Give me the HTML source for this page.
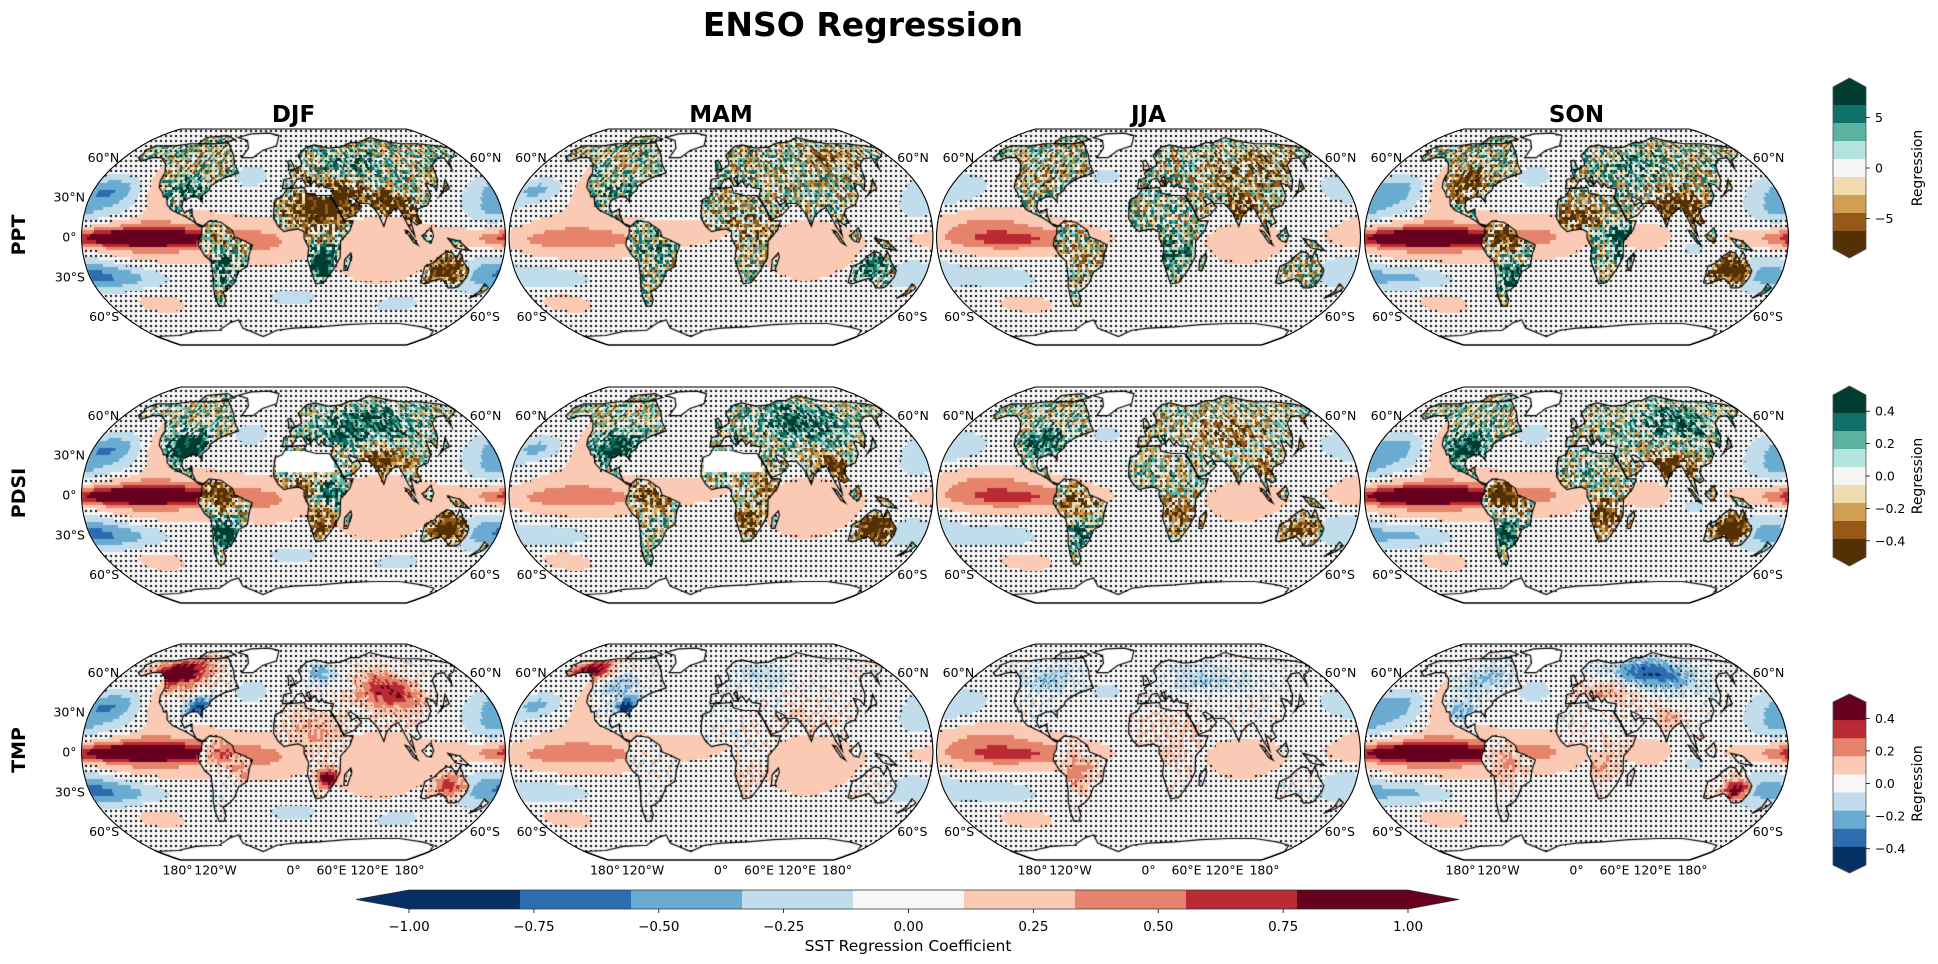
<!DOCTYPE html>
<html><head><meta charset="utf-8"><title>ENSO Regression</title>
<style>
html,body{margin:0;padding:0;background:#fff;}
#wrap{position:relative;width:1938px;height:964px;overflow:hidden;font-family:"DejaVu Sans","Liberation Sans",sans-serif;}
canvas,svg{position:absolute;left:0;top:0;}
</style></head>
<body>
<div id="wrap">
<canvas id="cv" width="1938" height="964"></canvas>
<svg id="sv" width="1938" height="964" xmlns="http://www.w3.org/2000/svg">
<text x="863" y="36" text-anchor="middle" font-size="33" font-weight="bold">ENSO Regression</text>
</svg>
</div>
<script>
// ---------- data ----------
const seasons = ['DJF','MAM','JJA','SON'];
const variables = ['PPT','PDSI','TMP'];
const cbarTicksPPT = [5,0,-5];
const cbarTicksPDSI = [0.4,0.2,0.0,-0.2,-0.4];
const cbarTicksTMP = [0.4,0.2,0.0,-0.2,-0.4];
const sstTicks = [-1.00,-0.75,-0.50,-0.25,0.00,0.25,0.50,0.75,1.00];
const latLabels = ['60°N','30°N','0°','30°S','60°S'];
const latValues = [60,30,0,-30,-60];
const lonLabels = ['180°','120°W','0°','60°E','120°E','180°'];
const rdbu = ['#053061','#2c6db0','#6aabd1','#c1ddec','#f7f7f7','#fbcab4','#e5836b','#ba2a34','#67001f'];
const brbg = ['#543005','#955a18','#cfa052','#f0dcae','#f5f5f5','#b4e2dc','#5ab2a0','#0f7068','#003c30'];
// SST blobs [lon, lat, rlon, rlat, amp]
const sstDJF = [[-130,-1,55,5,0.75],[-125,0,70,10,0.45],[-120,0,90,22,0.3],[-122,40,13,25,0.3],[-165,35,25,10,-0.5],[-160,20,40,12,-0.25],[-150,-30,40,9,-0.4],[-170,-25,25,15,-0.25],[170,20,25,15,-0.3],[165,-25,25,15,-0.3],[75,-10,45,25,0.3],[-20,-5,30,15,0.25],[-40,45,15,8,-0.3],[-130,-50,25,8,0.25],[0,-45,30,8,-0.2],[100,-50,30,8,-0.2]];
const sstMAM = [[-125,-2,60,7,0.2],[-120,0,80,18,0.3],[-122,40,13,25,0.25],[-165,35,20,8,-0.4],[-150,-30,35,8,-0.3],[75,-10,45,25,0.25],[-20,5,30,10,0.15],[-150,-50,25,8,0.25],[170,20,25,15,-0.2],[165,-25,25,15,-0.2]];
const sstJJA = [[-110,-2,50,6,0.25],[-120,0,80,15,0.35],[-140,10,40,15,0.2],[-175,35,30,12,-0.3],[170,-25,25,12,-0.3],[-130,-30,40,12,-0.2],[80,-5,40,20,0.2],[-120,-50,30,8,0.25],[-40,45,15,8,-0.2]];
const sstSON = [[-130,-1,55,5,0.8],[-125,0,70,10,0.45],[-120,0,90,22,0.3],[-122,40,13,25,0.3],[-165,35,25,10,-0.45],[-160,20,40,12,-0.25],[-150,-30,40,9,-0.4],[170,20,25,15,-0.3],[165,-25,25,15,-0.35],[60,0,20,10,0.3],[100,-8,15,8,-0.2],[-20,0,30,15,0.2],[-40,45,15,8,-0.3],[-130,-50,25,8,0.25]];
const sstBlobs = [sstDJF,sstMAM,sstJJA,sstSON];
// land blobs [lon, lat, rlon, rlat, amp]
const pptDJF=[[20,20,25,15,-0.8],[45,30,20,12,-0.7],[80,25,20,10,-0.6],[100,15,15,10,-0.5],[25,-20,15,12,0.9],[135,-25,15,10,-0.9],[-60,-25,15,15,0.4],[-60,0,15,10,-0.2],[-95,35,20,10,0.4],[60,55,40,10,0.3],[10,50,15,8,-0.2]];
const pptMAM=[[30,10,25,15,-0.3],[130,-25,15,10,0.5],[-55,-10,15,15,0.2],[120,60,30,10,-0.4],[-95,35,20,10,0.2]];
const pptJJA=[[80,20,15,10,-0.5],[100,50,40,15,-0.3],[20,-10,20,15,0.3],[-60,-20,15,15,-0.2],[-95,45,25,10,-0.2]];
const pptSON=[[135,-25,15,10,-1],[90,20,25,15,-0.7],[40,0,15,15,0.6],[-60,0,15,10,-0.7],[-100,40,20,12,-0.5],[0,15,25,8,-0.5],[60,55,30,10,0.4],[-55,-30,15,10,0.5]];
const pdsiDJF=[[-95,35,20,12,0.9],[135,-25,15,10,-1],[-60,0,15,10,-0.8],[-60,-30,12,12,0.8],[25,-20,15,12,-0.6],[30,0,12,10,0.7],[80,25,20,10,-0.7],[10,5,12,8,-0.6],[80,55,40,12,0.6],[40,45,20,10,0.4]];
const pdsiMAM=[[-95,35,20,12,0.8],[135,-25,15,10,-0.9],[-60,0,15,10,-0.5],[25,-20,15,12,-0.6],[80,55,40,12,0.6],[95,20,15,10,-0.7],[40,5,12,8,-0.4]];
const pdsiJJA=[[-95,40,20,12,0.5],[135,-25,15,10,-0.5],[-60,-5,15,10,-0.5],[80,50,40,12,-0.3],[25,-15,15,12,-0.5],[100,20,15,10,-0.4],[-60,-30,12,10,0.5]];
const pdsiSON=[[-100,35,20,12,0.7],[135,-25,15,10,-1],[-60,0,15,10,-0.9],[25,-15,15,12,-0.6],[80,20,20,10,-0.8],[100,55,30,12,0.5],[-60,-30,12,10,0.6]];
const tmpDJF=[[-120,60,30,12,1.0],[-85,33,10,8,-0.8],[90,45,30,15,0.7],[30,-20,10,8,0.9],[135,-25,15,10,0.6],[-60,0,15,10,0.5],[20,15,30,15,0.3],[30,60,15,8,-0.4],[-45,-15,10,8,0.3]];
const tmpMAM=[[-140,62,20,10,0.9],[-85,33,10,8,-0.9],[-100,50,20,8,-0.3],[25,-20,15,12,0.2],[80,10,30,20,0.2],[40,60,30,10,-0.2]];
const tmpJJA=[[-60,-15,15,15,0.4],[-100,55,25,10,-0.3],[60,55,40,10,-0.25],[20,10,30,20,0.15]];
const tmpSON=[[80,60,40,12,-0.7],[-90,55,25,12,-0.3],[-100,30,15,10,-0.3],[140,-28,12,8,0.8],[20,-10,25,15,0.25],[-60,-10,15,15,0.3],[30,45,30,10,0.3],[80,25,10,8,0.4]];
const landBlobs=[[pptDJF,pptMAM,pptJJA,pptSON],[pdsiDJF,pdsiMAM,pdsiJJA,pdsiSON],[tmpDJF,tmpMAM,tmpJJA,tmpSON]];
const landGain=[1.5,1.5,1.1];
const landNoise=[1.0,0.9,0.2];
const landThr=[0.55,0.5,0.3];

// ---------- geometry ----------
const XT=[1.0,0.9986,0.9954,0.99,0.9822,0.973,0.96,0.9427,0.9216,0.8962,0.8679,0.835,0.7986,0.7597,0.7186,0.6732,0.6213,0.5722,0.5322];
const YT=[0,0.062,0.124,0.186,0.248,0.31,0.372,0.434,0.4958,0.5571,0.6176,0.6769,0.7346,0.7903,0.8435,0.8936,0.9394,0.9761,1.0];
const CX=[293.5,721,1148.5,1576.5], CY=[237,495,752], HW=212, HH=108;
function tab(T,lat){let a=Math.min(90,Math.abs(lat))/5;let i=Math.min(17,Math.floor(a));let f=a-i;return T[i]+(T[i+1]-T[i])*f;}
function robX(lat){return tab(XT,lat);}
function robY(lat){return Math.sign(lat)*tab(YT,lat);}
function invY(t){const s=t<0?-1:1,a=Math.abs(t);for(let i=0;i<18;i++){if(a<=YT[i+1]){return s*(i+(a-YT[i])/(YT[i+1]-YT[i]))*5;}}return s*90;}
function proj(lon,lat,cx,cy){return [cx+HW*robX(lat)*lon/180, cy-HH*robY(lat)];}

const polys=[
 {nd:0,p:[[-168,66],[-162,70],[-140,70],[-125,72],[-95,72],[-80,73],[-65,62],[-60,55],[-53,48],[-66,44],[-70,42],[-76,38],[-76,35],[-81,31],[-80,26],[-82,28],[-85,30],[-90,30],[-97,27],[-97,22],[-94,18],[-88,21],[-87,16],[-83,10],[-79,9],[-77,8],[-80,8],[-86,12],[-92,15],[-105,20],[-110,24],[-112,30],[-115,30],[-117,33],[-122,37],[-124,42],[-124,48],[-130,55],[-140,60],[-150,60],[-158,57],[-165,60],[-165,64]]},
 {nd:0,p:[[-115,72],[-90,72],[-75,76],[-90,80],[-115,78]]},
 {nd:0,p:[[-77,8],[-72,12],[-62,11],[-52,5],[-50,0],[-44,-2],[-35,-6],[-38,-13],[-40,-22],[-48,-26],[-53,-34],[-58,-38],[-65,-41],[-65,-47],[-69,-52],[-74,-52],[-74,-45],[-73,-37],[-71,-30],[-71,-18],[-76,-14],[-81,-6],[-80,-1],[-78,2],[-78,7]]},
 {nd:0,p:[[-17,21],[-16,28],[-10,30],[-6,36],[10,37],[11,33],[20,31],[32,31],[35,28],[43,12],[51,12],[48,5],[40,-3],[40,-15],[35,-24],[32,-28],[27,-34],[20,-35],[18,-31],[12,-17],[13,-8],[9,-1],[9,4],[4,6],[-4,5],[-8,4],[-13,8],[-17,14]]},
 {nd:0,p:[[-10,36],[-9,43],[-2,44],[-4,48],[2,51],[8,54],[8,57],[5,62],[15,69],[25,71],[40,68],[55,69],[70,73],[80,73],[100,78],[115,74],[130,72],[150,72],[170,70],[180,68],[180,65],[172,61],[162,58],[156,51],[160,60],[150,59],[140,54],[135,43],[129,35],[127,39],[122,40],[122,31],[117,24],[108,21],[106,17],[109,11],[105,9],[100,13],[103,1],[98,8],[94,16],[91,22],[86,20],[80,15],[77,8],[73,17],[70,21],[66,25],[57,25],[56,27],[50,30],[48,29],[51,24],[56,26],[59,22],[52,16],[43,13],[39,21],[33,29],[34,31],[36,36],[28,37],[26,40],[23,37],[21,40],[19,42],[16,39],[15,45],[12,44],[16,38],[12,38],[8,44],[3,43],[-1,37]]},
 {nd:0,p:[[114,-22],[114,-34],[118,-35],[124,-33],[131,-31],[138,-35],[141,-38],[147,-38],[150,-37],[153,-30],[153,-25],[146,-18],[145,-15],[142,-11],[140,-17],[136,-12],[131,-11],[126,-14],[121,-19]]},
 {nd:0,p:[[109,1],[113,-3],[117,-4],[119,1],[117,7],[111,2]]},
 {nd:0,p:[[95,5],[98,4],[106,-6],[102,-4]]},
 {nd:0,p:[[131,-1],[141,-3],[150,-10],[143,-9],[138,-8]]},
 {nd:0,p:[[44,-25],[47,-25],[50,-15],[49,-12],[44,-17]]},
 {nd:0,p:[[130,31],[135,34],[141,36],[142,43],[140,41],[135,35]]},
 {nd:0,p:[[-5,50],[1,51],[0,54],[-3,58],[-6,57],[-5,54]]},
 {nd:0,p:[[172,-35],[178,-38],[175,-42],[167,-46],[172,-41]]},
 {nd:1,p:[[-55,60],[-43,60],[-35,66],[-20,70],[-20,80],[-35,83],[-60,82],[-73,78],[-58,75],[-52,68]]},
 {nd:1,p:[[-180,-78],[-150,-77],[-120,-73],[-90,-72],[-70,-65],[-60,-63],[-60,-70],[-40,-78],[-20,-72],[0,-70],[30,-69],[60,-67],[90,-66],[120,-66],[150,-69],[170,-72],[180,-78],[180,-90],[-180,-90]]}
];
function pip(x,y,p){let c=false;for(let i=0,j=p.length-1;i<p.length;j=i++){const xi=p[i][0],yi=p[i][1],xj=p[j][0],yj=p[j][1];if(((yi>y)!=(yj>y))&&(x<(xj-xi)*(y-yi)/(yj-yi)+xi))c=!c;}return c;}
const NI=144,NJ=72,D=2.5;
const land=new Uint8Array(NI*NJ);
for(let j=0;j<NJ;j++)for(let i=0;i<NI;i++){const lon=-180+D*(i+.5),lat=-90+D*(j+.5);for(const q of polys){if(pip(lon,lat,q.p)){land[j*NI+i]=q.nd?2:1;break;}}}
function blobSum(bl,lon,lat){let v=0;for(const b of bl){const dl=((lon-b[0]+540)%360)-180;const dy=lat-b[1];v+=b[4]*Math.exp(-(dl*dl)/(b[2]*b[2])-(dy*dy)/(b[3]*b[3]));}return v;}
function hash(i,j){let h=(i*374761393+j*668265263)|0;h=(h^(h>>>13))*1274126177|0;h=h^(h>>>16);return ((h>>>0)%1000)/1000-0.5;}
function bin(v){return Math.max(0,Math.min(8,Math.floor((v+1)/(2/9))));}
function hex(c){return [parseInt(c.substr(1,2),16),parseInt(c.substr(3,2),16),parseInt(c.substr(5,2),16)];}
const RDBU=rdbu.map(hex),BRBG=brbg.map(hex);

const cv=document.getElementById('cv');const ctx=cv.getContext('2d');
ctx.fillStyle='#fff';ctx.fillRect(0,0,1938,964);
const img=ctx.getImageData(0,0,1938,964);const px=img.data;
for(let r=0;r<3;r++)for(let c=0;c<4;c++){
  const col=new Array(NI*NJ),sig=new Uint8Array(NI*NJ);
  for(let j=0;j<NJ;j++)for(let i=0;i<NI;i++){
    const k=j*NI+i,lon=-180+D*(i+.5),lat=-90+D*(j+.5);
    if(land[k]==2){col[k]=[255,255,255];sig[k]=1;continue;}
    if(land[k]==1){
      let v=landGain[r]*blobSum(landBlobs[r][c],lon,lat)+landNoise[r]*hash(i+c*31,j+r*17)*1.4;
      if(r==1&&c<2&&lon>-15&&lon<35&&lat>18&&lat<32){col[k]=[255,255,255];sig[k]=1;continue;}
      col[k]=(r==2?RDBU:BRBG)[bin(v)];sig[k]=Math.abs(v)>=landThr[r]?1:0;
    }else{
      let v=blobSum(sstBlobs[c],lon,lat);
      if(lat>68||lat<-62)v=0;
      col[k]=RDBU[bin(v)];sig[k]=Math.abs(v)>=0.12?1:0;
    }
  }
  const cx=CX[c],cy=CY[r];
  for(let y=Math.ceil(cy-HH);y<=Math.floor(cy+HH);y++){
    const lat=invY((cy-y-0.5)/HH);const xr=HW*robX(lat);
    const j=Math.max(0,Math.min(NJ-1,Math.floor((lat+90)/D)));
    for(let x=Math.ceil(cx-xr);x<=Math.floor(cx+xr);x++){
      const lon=(x+0.5-cx)/xr*180;
      const i=Math.max(0,Math.min(NI-1,Math.floor((lon+180)/D)));
      const k=j*NI+i;let rgb=col[k];
      if(!sig[k]&&(x%5)<2&&(y%5)<2)rgb=[10,10,10];
      const o=(y*1938+x)*4;px[o]=rgb[0];px[o+1]=rgb[1];px[o+2]=rgb[2];px[o+3]=255;
    }
  }
}
ctx.putImageData(img,0,0);
ctx.strokeStyle='#000';ctx.lineWidth=1.2;
for(let r=0;r<3;r++)for(let c=0;c<4;c++){
  for(const q of polys){ctx.beginPath();q.p.forEach((pt,n)=>{const a=proj(pt[0],pt[1],CX[c],CY[r]);if(n)ctx.lineTo(a[0],a[1]);else ctx.moveTo(a[0],a[1]);});ctx.closePath();ctx.stroke();}
}

// ---------- overlay ----------
const NS='http://www.w3.org/2000/svg';const sv=document.getElementById('sv');
function mk(tag,attrs,parent){const e=document.createElementNS(NS,tag);for(const k in attrs)e.setAttribute(k,attrs[k]);(parent||sv).appendChild(e);return e;}
function txt(x,y,s,size,anchor,weight){const t=mk('text',{x:x,y:y,'font-size':size,'text-anchor':anchor||'middle','dominant-baseline':'central'});if(weight)t.setAttribute('font-weight',weight);t.textContent=s;return t;}
for(let r=0;r<3;r++)for(let c=0;c<4;c++){
  const cx=CX[c],cy=CY[r];let d='';
  for(let lat=-90;lat<=90;lat+=2.5){const a=proj(180,lat,cx,cy);d+=(lat==-90?'M':'L')+a[0].toFixed(1)+','+a[1].toFixed(1);}
  for(let lat=90;lat>=-90;lat-=2.5){const a=proj(-180,lat,cx,cy);d+='L'+a[0].toFixed(1)+','+a[1].toFixed(1);}
  const pth=mk('path',{d:d+'Z',fill:'none',stroke:'#000','stroke-width':1.1});
  
  
  latValues.forEach((lv,n)=>{
    if(Math.abs(lv)!=60&&c!=0)return;
    const y=cy-HH*robY(lv),xe=HW*robX(lv);
    const t=txt(cx-xe-5,y,latLabels[n],12.5,'end');
    
    
    if(Math.abs(lv)==60){const t2=txt(cx+xe+7,y,latLabels[n],12.5,'start');
      
      }
  });
  if(r==2){const offs=[-116,-78,0,38,76,116];lonLabels.forEach((s,n)=>{const t=txt(cx+offs[n],870,s,12.5);
    
    });}
}
seasons.forEach((s,c)=>{const t=txt(CX[c],115,s,23,'middle','bold');
  
  });
variables.forEach((s,r)=>{const t=txt(0,0,s,19,'middle','bold');t.setAttribute('transform','translate(19,'+(CY[r]-2)+') rotate(-90)');
  
  });

// right colorbars
const cbars=[{top:87,bot:249,tip1:78,tip2:258,vmin:-8,vmax:8,ticks:cbarTicksPPT,pal:brbg,fmt:v=>String(v).replace('-','\u2212')},
 {top:395,bot:557,tip1:386,tip2:566,vmin:-0.5,vmax:0.5,ticks:cbarTicksPDSI,pal:brbg,fmt:v=>v.toFixed(1).replace('-','\u2212')},
 {top:702,bot:865,tip1:694,tip2:873,vmin:-0.5,vmax:0.5,ticks:cbarTicksTMP,pal:rdbu,fmt:v=>v.toFixed(1).replace('-','\u2212')}];
cbars.forEach((cb,r)=>{
  const g=mk('g',{});
  
  
  const x0=1833,x1=1866,h=(cb.bot-cb.top)/9;
  for(let b=0;b<9;b++){const col=cb.pal[8-b];const y=cb.top+b*h;
    const rc=mk('rect',{x:x0,y:y.toFixed(2),width:x1-x0,height:(h+0.6).toFixed(2),fill:col},g);
    
    }
  mk('path',{d:`M${x0},${cb.top}L${(x0+x1)/2},${cb.tip1}L${x1},${cb.top}Z`,fill:cb.pal[8]},g);
  mk('path',{d:`M${x0},${cb.bot}L${(x0+x1)/2},${cb.tip2}L${x1},${cb.bot}Z`,fill:cb.pal[0]},g);
  mk('path',{d:`M${x0},${cb.top}L${(x0+x1)/2},${cb.tip1}L${x1},${cb.top}L${x1},${cb.bot}L${(x0+x1)/2},${cb.tip2}L${x0},${cb.bot}Z`,fill:'none',stroke:'#555','stroke-width':0.8},g);
  cb.ticks.forEach(v=>{const y=cb.bot-(v-cb.vmin)/(cb.vmax-cb.vmin)*(cb.bot-cb.top);
    mk('line',{x1:x1,x2:x1+4,y1:y,y2:y,stroke:'#000','stroke-width':0.8},g);
    const t=txt(x1+9,y,cb.fmt(v),12.5,'start');
    
    });
  const lt=txt(0,0,'Regression',14);lt.setAttribute('transform','translate(1918,'+((cb.top+cb.bot)/2)+') rotate(-90)');
  
  
});

// bottom SST colorbar
(function(){
  const x0=409,x1=1408,y0=890,y1=909,w=(x1-x0)/9;
  const g=mk('g',{});
  
  
  for(let b=0;b<9;b++){const rc=mk('rect',{x:(x0+b*w).toFixed(2),y:y0,width:(w+0.6).toFixed(2),height:y1-y0,fill:rdbu[b]},g);
    
    }
  mk('path',{d:`M${x0},${y0}L356,${(y0+y1)/2}L${x0},${y1}Z`,fill:rdbu[0]},g);
  mk('path',{d:`M${x1},${y0}L1459,${(y0+y1)/2}L${x1},${y1}Z`,fill:rdbu[8]},g);
  mk('path',{d:`M${x0},${y0}L356,${(y0+y1)/2}L${x0},${y1}L${x1},${y1}L1459,${(y0+y1)/2}L${x1},${y0}Z`,fill:'none',stroke:'#333','stroke-width':0.8},g);
  sstTicks.forEach(v=>{const x=x0+(v+1)/2*(x1-x0);
    mk('line',{x1:x,x2:x,y1:y1,y2:y1+4,stroke:'#000','stroke-width':0.8},g);
    const t=txt(x,927,v.toFixed(2).replace('-','\u2212'),13.5);
    
    });
  const t=txt(908,946,'SST Regression Coefficient',15.5);
  
  
})();
</script>
</body></html>
